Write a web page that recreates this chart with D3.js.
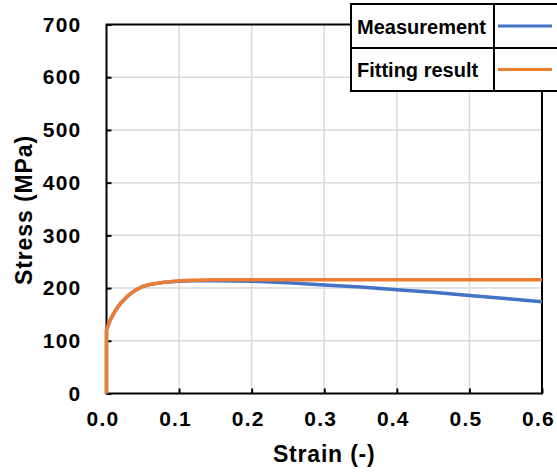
<!DOCTYPE html>
<html><head><meta charset="utf-8">
<script src="https://cdn.jsdelivr.net/npm/d3@7"></script>
<style>body{margin:0;background:#fff;} svg{display:block;font-family:"Liberation Sans",Arial,sans-serif;font-weight:bold;}</style>
</head><body>
<svg id="c" width="557" height="474"></svg>
<script>
const xTicks = [0, 0.1, 0.2, 0.3, 0.4, 0.5, 0.6];
const yTicks = [0, 100, 200, 300, 400, 500, 600, 700];
const seriesNames = ["Measurement", "Fitting result"];
const seriesColors = ["#4472C4", "#ED7D31"];
const measStrain = [0, 0, 0.002, 0.005, 0.01, 0.015, 0.02, 0.03, 0.04, 0.05, 0.06, 0.08, 0.1, 0.12, 0.15, 0.2, 0.25, 0.3, 0.35, 0.4, 0.45, 0.5, 0.55, 0.6];
const measStress = [0, 120, 128, 139, 152, 163, 172, 186, 196, 203, 207, 211, 213, 214, 214, 213, 210, 206, 202, 197, 192, 186, 180, 174];
const fitStrain = [0, 0, 0.002, 0.005, 0.01, 0.015, 0.02, 0.03, 0.04, 0.05, 0.06, 0.08, 0.1, 0.12, 0.15, 0.2, 0.3, 0.4, 0.5, 0.6];
const fitStress = [0, 120, 128, 139, 152, 163, 172, 186, 196, 203, 207, 211, 214, 215, 216, 216, 216, 216, 216, 216];

const svg = d3.select("#c");
const L = 106.5, R = 542, T = 24.5, B = 393.5;
const x = d3.scaleLinear().domain([0, 0.6]).range([L, R]);
const y = d3.scaleLinear().domain([0, 700]).range([B, T]);

// gridlines
svg.append("g").selectAll("line.v").data(xTicks.slice(1, -1)).join("line")
  .attr("x1", d => x(d)).attr("x2", d => x(d)).attr("y1", T).attr("y2", B)
  .attr("stroke", "#d9d9d9").attr("stroke-width", 1.5);
svg.append("g").selectAll("line.h").data(yTicks.slice(1, -1)).join("line")
  .attr("y1", d => y(d)).attr("y2", d => y(d)).attr("x1", L).attr("x2", R)
  .attr("stroke", "#d9d9d9").attr("stroke-width", 1.5);

// axes
const xAxis = d3.axisBottom(x).tickValues(xTicks).tickFormat(d3.format(".1f")).tickSizeInner(-5).tickSizeOuter(0).tickPadding(18);
const yAxis = d3.axisLeft(y).tickValues(yTicks).tickFormat(d3.format("d")).tickSizeInner(-5).tickSizeOuter(0).tickPadding(25);
const gx = svg.append("g").attr("transform", `translate(0,${B})`).call(xAxis);
const gy = svg.append("g").attr("transform", `translate(${L},0)`).call(yAxis);
[gx, gy].forEach(g => {
  g.select(".domain").remove();
  g.selectAll(".tick line").attr("stroke", "#000").attr("stroke-width", 2);
  g.selectAll(".tick text").attr("font-size", 21).attr("font-weight", "bold").attr("fill", "#000")
    .attr("letter-spacing", 1.2).attr("font-family", "Liberation Sans, Arial, sans-serif");
});
gx.selectAll(".tick text").attr("dx", -4);

// frame
svg.append("rect").attr("x", L).attr("y", T).attr("width", R - L).attr("height", B - T)
  .attr("fill", "none").attr("stroke", "#000").attr("stroke-width", 2);

// lines
const line = d3.line().x(d => x(d[0])).y(d => y(d[1]));
const meas = measStrain.map((s, i) => [s, measStress[i]]);
const fit = fitStrain.map((s, i) => [s, fitStress[i]]);
svg.append("path").datum(meas).attr("d", line).attr("fill", "none").attr("stroke", seriesColors[0]).attr("stroke-width", 3.5).attr("stroke-linejoin", "round");
svg.append("path").datum(fit).attr("d", line).attr("fill", "none").attr("stroke", seriesColors[1]).attr("stroke-width", 3.5).attr("stroke-linejoin", "round");

// axis titles
svg.append("text").attr("x", (L + R) / 2).attr("y", 462).attr("text-anchor", "middle").attr("font-size", 23).attr("letter-spacing", 0.8).text("Strain (-)");
svg.append("text").attr("transform", "translate(32,210) rotate(-90)").attr("text-anchor", "middle").attr("font-size", 23).attr("letter-spacing", 0.9).text("Stress (MPa)");

// legend table
const lg = svg.append("g");
const lx0 = 351, lx1 = 494, lx2 = 560, ly0 = 4, ly1 = 48, ly2 = 91;
lg.append("rect").attr("x", lx0).attr("y", ly0).attr("width", lx2 - lx0).attr("height", ly2 - ly0).attr("fill", "#fff").attr("stroke", "#000").attr("stroke-width", 2);
lg.append("line").attr("x1", lx0).attr("x2", lx2).attr("y1", ly1).attr("y2", ly1).attr("stroke", "#000").attr("stroke-width", 2);
lg.append("line").attr("x1", lx1).attr("x2", lx1).attr("y1", ly0).attr("y2", ly2).attr("stroke", "#000").attr("stroke-width", 2);
const rows = [(ly0 + ly1) / 2, (ly1 + ly2) / 2];
seriesNames.forEach((n, i) => {
  lg.append("text").attr("x", lx0 + 6).attr("y", rows[i] + 7.5).attr("font-size", 20).text(n);
  lg.append("line").attr("x1", 498).attr("x2", 552).attr("y1", rows[i]).attr("y2", rows[i]).attr("stroke", seriesColors[i]).attr("stroke-width", 3);
});
</script>
</body></html>
